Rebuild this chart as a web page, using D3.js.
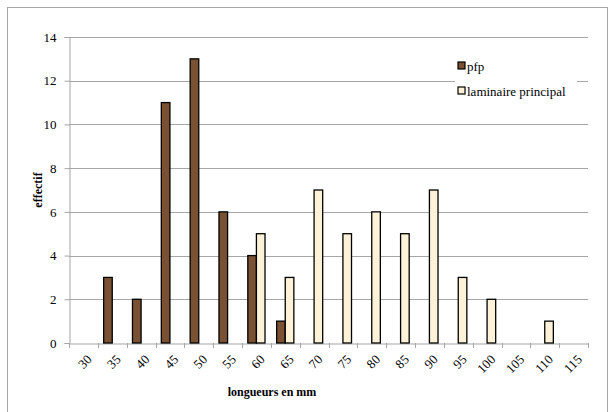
<!DOCTYPE html>
<html><head><meta charset="utf-8">
<script src="https://cdn.jsdelivr.net/npm/d3@7"></script>
<style>body{margin:0;background:#fff}svg{display:block}</style>
</head><body>
<svg id="c" width="610" height="412"></svg>
<script>
const categories = ["30","35","40","45","50","55","60","65","70","75","80","85","90","95","100","105","110","115"];
const seriesNames = ["pfp","laminaire principal"];
const pfp = [0,3,2,11,13,6,4,1,0,0,0,0,0,0,0,0,0,0];
const laminaire = [0,0,0,0,0,0,5,3,7,5,6,5,7,3,2,0,1,0];
const yTicks = [0,2,4,6,8,10,12,14];
const colors = ["#7a5133","#fdf2d8"];
const FONT = "'Liberation Serif', 'DejaVu Serif', 'Times New Roman', serif";

const svg = d3.select("#c");
svg.append("rect").attr("x",7.5).attr("y",7.5).attr("width",600).attr("height",410).attr("fill","#fff").attr("stroke","#a6a6a6");

const L=69,R=588,T=37,B=343;
const x = d3.scaleBand().domain(categories).range([L,R]).padding(0);
const y = d3.scaleLinear().domain([0,14]).range([B,T]);

// gridlines
svg.append("g").selectAll("line").data(yTicks.slice(1)).join("line")
  .attr("x1",L).attr("x2",R).attr("y1",d=>Math.round(y(d))+0.5).attr("y2",d=>Math.round(y(d))+0.5)
  .attr("stroke","#a6a6a6").attr("stroke-width",1.2);

// y axis
const yAxis = svg.append("g").attr("transform",`translate(${L+0.5},0)`)
  .call(d3.axisLeft(y).tickValues(yTicks).tickSize(5).tickPadding(8));
yAxis.attr("font-family",null);
yAxis.select(".domain").attr("stroke","#a6a6a6");
yAxis.selectAll(".tick line").attr("stroke","#a6a6a6");
yAxis.selectAll(".tick text").attr("font-size",13).attr("fill","#000").style("font-family",FONT);

// x axis
const xAxis = svg.append("g").attr("transform",`translate(0,${B+0.5})`)
  .call(d3.axisBottom(x).tickSize(0).tickFormat(""));
xAxis.select(".domain").attr("stroke","#a6a6a6").attr("stroke-width",1.2);
const bounds = categories.map((c,i)=>x(c)).concat([R]);
svg.append("g").selectAll("line").data(bounds).join("line")
  .attr("x1",d=>Math.round(d)+0.5).attr("x2",d=>Math.round(d)+0.5).attr("y1",B).attr("y2",B+5).attr("stroke","#a6a6a6");
svg.append("g").selectAll("text").data(categories).join("text")
  .attr("transform",d=>`translate(${x(d)+x.bandwidth()/2+6},${B+14}) rotate(-45)`)
  .attr("text-anchor","end").attr("dy","0.35em").attr("font-size",13).style("font-family",FONT).text(d=>d);

// bars
const bw = 8.6;
const x1 = d3.scaleBand().domain(seriesNames).range([-bw, bw]).padding(0);
const data = [pfp, laminaire];
data.forEach((vals,si)=>{
  svg.append("g").selectAll("rect").data(categories.map((c,i)=>({c,v:vals[i]})).filter(d=>d.v>0)).join("rect")
    .attr("x",d=>x(d.c)+x.bandwidth()/2+x1(seriesNames[si]))
    .attr("width",x1.bandwidth())
    .attr("y",d=>y(d.v)).attr("height",d=>y(0)-y(d.v))
    .attr("fill",colors[si]).attr("stroke","#000").attr("stroke-width",1.3);
});

// legend
const lg = svg.append("g");
lg.append("rect").attr("x",455).attr("y",56).attr("width",122).attr("height",45).attr("fill","#fff");
seriesNames.forEach((s,i)=>{
  const yy = 66 + i*25;
  lg.append("rect").attr("x",458).attr("y",yy-4).attr("width",7).attr("height",7).attr("fill",colors[i]).attr("stroke","#000").attr("stroke-width",1.2);
  lg.append("text").attr("x",467).attr("y",yy).attr("dy","0.35em").attr("font-size",13).style("font-family",FONT).text(s);
});

// titles
svg.append("text").attr("transform","translate(42,190) rotate(-90)").attr("text-anchor","middle")
  .attr("font-size",12).attr("font-weight","bold").style("font-family",FONT).text("effectif");
svg.append("text").attr("x",272).attr("y",396).attr("text-anchor","middle")
  .attr("font-size",12).attr("font-weight","bold").style("font-family",FONT).text("longueurs en mm");
</script>
</body></html>
